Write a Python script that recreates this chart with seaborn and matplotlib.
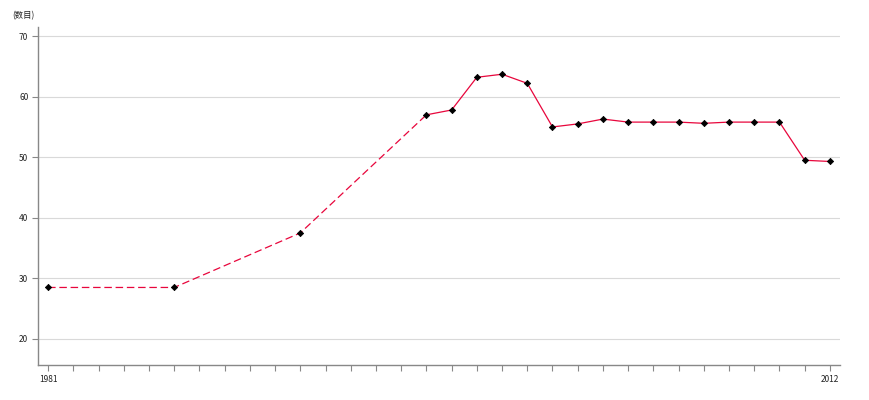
import pandas as pd
import seaborn as sns
from matplotlib import pyplot as plt

years = [1981, 1986, 1991, 1996, 1997, 1998, 1999, 2000, 2001, 2002, 2003,
         2004, 2005, 2006, 2007, 2008, 2009, 2010, 2011, 2012]
values = [28.5, 28.5, 37.5, 57.0, 57.8, 63.2, 63.7, 62.2, 55.0, 55.5, 56.3,
          55.8, 55.8, 55.8, 55.6, 55.8, 55.8, 55.8, 49.5, 49.3]
y_label = "(数目)"
line_color = "#e8063c"

sns.set_style("white")
plt.rcParams['font.family'] = ['Noto Sans CJK SC', 'DejaVu Sans']

df = pd.DataFrame({"year": years, "value": values})
gap_part = df[df["year"] <= 1996]
solid_part = df[df["year"] >= 1996]

fig = plt.figure(figsize=(8.7, 4), dpi=100)
ax = fig.add_axes([0.0437, 0.0875, 0.9218, 0.845])

sns.lineplot(data=gap_part, x="year", y="value", ax=ax, color=line_color,
             linewidth=0.9, linestyle=(0, (6, 3)))
sns.lineplot(data=solid_part, x="year", y="value", ax=ax, color=line_color,
             linewidth=0.9)
sns.scatterplot(data=df, x="year", y="value", ax=ax, color="black",
                marker="D", s=10, linewidth=0.6, edgecolor="black", zorder=5)

ax.set_xlim(1980.6, 2012.4)
ax.set_ylim(15.7, 71.5)
ax.set_yticks([20, 30, 40, 50, 60, 70])
ax.set_xticks(range(1981, 2013))
ax.set_xticklabels([str(y) if y in (1981, 2012) else "" for y in range(1981, 2013)])
ax.yaxis.grid(True, color="#d9d9d9", linewidth=0.8)
ax.set_axisbelow(True)
ax.set_xlabel("")
ax.set_ylabel("")

for side in ("top", "right"):
    ax.spines[side].set_visible(False)
for side in ("left", "bottom"):
    ax.spines[side].set_color("#888888")
    ax.spines[side].set_linewidth(1)
ax.tick_params(axis="both", length=4, width=0.8, color="#888888",
               labelsize=6, labelcolor="#222222", pad=3)
ax.tick_params(axis="x", direction="out", bottom=True)
ax.tick_params(axis="y", direction="out", left=True)

fig.text(0.014, 0.955, y_label, fontsize=6, color="#222222")

fig.savefig("out.png", dpi=100)
